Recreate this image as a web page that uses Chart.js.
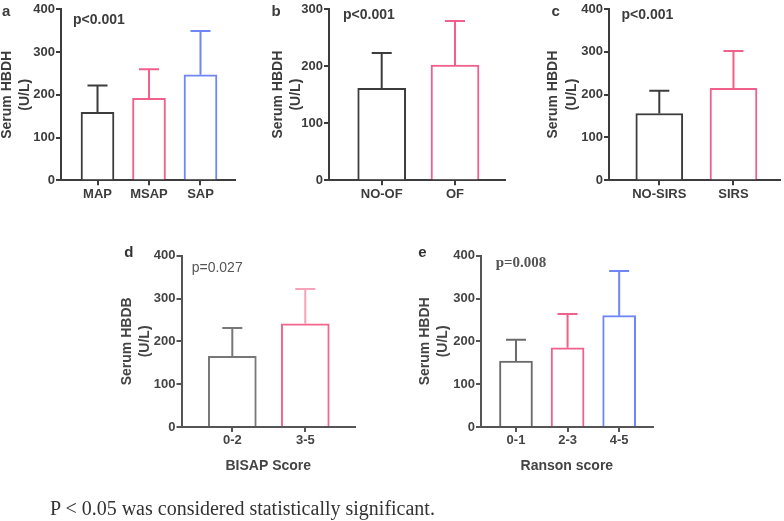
<!DOCTYPE html>
<html>
<head>
<meta charset="utf-8">
<script src="https://cdn.jsdelivr.net/npm/chart.js@4.4.0/dist/chart.umd.min.js"></script>
<style>
html, body { margin: 0; padding: 0; background: #fff; }
#wrap { position: relative; width: 784px; height: 521px; overflow: hidden; }
#wrap canvas { position: absolute; left: 0; top: 0; }
#footnote {
    position: absolute; left: 50px; top: 498px;
    font: 20px 'Liberation Serif', 'Times New Roman', serif;
    line-height: 20px; color: #333; white-space: nowrap;
}
</style>
</head>
<body>
<div id="wrap">
    <canvas id="panel-a" width="784" height="521"></canvas>
    <canvas id="panel-b" width="784" height="521"></canvas>
    <canvas id="panel-c" width="784" height="521"></canvas>
    <canvas id="panel-d" width="784" height="521"></canvas>
    <canvas id="panel-e" width="784" height="521"></canvas>
    <div id="footnote">P &lt; 0.05 was considered statistically significant.</div>
</div>
<script>
// serum HBDH, mean and SD (upper whisker only)
const severityLabels = ['MAP', 'MSAP', 'SAP'];
const severityMean = [159, 192, 247];
const severitySD = [63, 68, 102];

const ofLabels = ['NO-OF', 'OF'];
const ofMean = [161, 202];
const ofSD = [62, 77];

const sirsLabels = ['NO-SIRS', 'SIRS'];
const sirsMean = [156, 215];
const sirsSD = [53, 87];

const bisapLabels = ['0-2', '3-5'];
const bisapMean = [165, 241];
const bisapSD = [66, 81];

const ransonLabels = ['0-1', '2-3', '4-5'];
const ransonMean = [154, 185, 260];
const ransonSD = [50, 79, 104];

const yMax400 = 400;
const yMax300 = 300;
const yStep = 100;

const DARK = '#3c3c3c';
const PINK = '#f0608a';
const BLUE = '#6e86f6';

Chart.defaults.font.family = "'Liberation Sans', Arial, sans-serif";

const errorBars = {
    id: 'errorBars',
    afterDatasetsDraw(chart, args, opts) {
        const ctx = chart.ctx;
        const yScale = chart.scales.y;
        chart.data.datasets.forEach((ds, di) => {
            const meta = chart.getDatasetMeta(di);
            meta.data.forEach((bar, i) => {
                const top = yScale.getPixelForValue(ds.data[i].y + ds.errors[i]);
                const base = yScale.getPixelForValue(ds.data[i].y);
                ctx.save();
                ctx.strokeStyle = (opts.colors || ds.borderColor)[i];
                ctx.lineWidth = 2;
                ctx.beginPath();
                ctx.moveTo(bar.x, base);
                ctx.lineTo(bar.x, top);
                ctx.moveTo(bar.x - opts.cap, top);
                ctx.lineTo(bar.x + opts.cap, top);
                ctx.stroke();
                ctx.restore();
            });
        });
    }
};

const panelText = {
    id: 'panelText',
    afterDraw(chart, args, opts) {
        const ctx = chart.ctx;
        (opts.items || []).forEach(t => {
            ctx.save();
            ctx.font = t.font;
            ctx.fillStyle = t.color;
            ctx.textAlign = 'left';
            ctx.textBaseline = 'alphabetic';
            ctx.fillText(t.text, t.x, t.y);
            ctx.restore();
        });
    }
};

function makePanel(id, p) {
    const bold13 = { size: 13, weight: 'bold' };
    return new Chart(document.getElementById(id), {
        type: 'bar',
        data: {
            datasets: [{
                data: p.labels.map((l, i) => ({ x: i, y: p.mean[i] })),
                errors: p.sd,
                backgroundColor: '#fff',
                borderColor: p.colors,
                borderWidth: 2,
                barThickness: p.barWidth
            }]
        },
        options: {
            responsive: false,
            animation: false,
            events: [],
            layout: { padding: p.pad },
            plugins: {
                legend: { display: false },
                tooltip: { enabled: false },
                errorBars: { cap: 10, colors: p.errColors },
                panelText: { items: p.texts }
            },
            scales: {
                x: {
                    type: 'linear',
                    offset: false,
                    bounds: 'data',
                    min: p.xMin,
                    max: p.xMax,
                    afterBuildTicks: s => { s.ticks = p.labels.map((l, i) => ({ value: i })); },
                    afterFit: s => { s.height = p.xHeight; },
                    ticks: {
                        callback: v => p.labels[v],
                        font: bold13, color: p.ink, padding: 1,
                        maxRotation: 0, autoSkip: false
                    },
                    grid: { offset: false, drawOnChartArea: false, drawTicks: true, tickLength: 5, color: p.axis, lineWidth: 2 },
                    border: { color: p.axis, width: 2 },
                    title: p.xTitle ? {
                        display: true, text: p.xTitle, color: p.ink,
                        font: { size: 14, weight: 'bold', lineHeight: 1.2 },
                        padding: { top: 0, bottom: p.xTitlePad }
                    } : { display: false }
                },
                y: {
                    min: 0,
                    max: p.yMax,
                    afterFit: s => { s.width = p.yWidth; },
                    ticks: { stepSize: yStep, font: bold13, color: p.ink, padding: 1 },
                    grid: { drawOnChartArea: false, drawTicks: true, tickLength: 5, color: p.axis, lineWidth: 2 },
                    border: { color: p.axis, width: 2 },
                    title: {
                        display: true, text: p.yTitle, color: p.ink,
                        font: { size: 14, weight: 'bold', lineHeight: 1.32 },
                        padding: { top: p.yTitlePad, bottom: 0 }
                    }
                }
            }
        },
        plugins: [errorBars, panelText]
    });
}

const letterFont = "bold 15px 'Liberation Sans', Arial, sans-serif";
const pFont = "bold 14px 'Liberation Sans', Arial, sans-serif";

makePanel('panel-a', {
    labels: severityLabels, mean: severityMean, sd: severitySD,
    colors: [DARK, PINK, BLUE], barWidth: 33,
    xMin: -0.709, xMax: 2.67, yMax: yMax400,
    pad: { left: 0, top: 9.3, right: 549, bottom: 315.7 },
    yWidth: 61, xHeight: 25, yTitlePad: -2.25,
    yTitle: ['Serum HBDH', '(U/L)'],
    ink: DARK, axis: DARK,
    texts: [
        { text: 'a', x: 2, y: 16, font: letterFont, color: DARK },
        { text: 'p<0.001', x: 73, y: 24, font: pFont, color: DARK }
    ]
});

makePanel('panel-b', {
    labels: ofLabels, mean: ofMean, sd: ofSD,
    colors: [DARK, PINK], barWidth: 48,
    xMin: -0.719, xMax: 1.682, yMax: yMax300,
    pad: { left: 268.75, top: 9, right: 279, bottom: 315.7 },
    yWidth: 60.25, xHeight: 25, yTitlePad: 0,
    yTitle: ['Serum HBDH', '(U/L)'],
    ink: DARK, axis: DARK,
    texts: [
        { text: 'b', x: 271.5, y: 16, font: letterFont, color: DARK },
        { text: 'p<0.001', x: 343, y: 18.5, font: pFont, color: DARK }
    ]
});

makePanel('panel-c', {
    labels: sirsLabels, mean: sirsMean, sd: sirsSD,
    colors: [DARK, PINK], barWidth: 47,
    xMin: -0.678, xMax: 1.627, yMax: yMax400,
    pad: { left: 544.25, top: 9, right: 4, bottom: 315.7 },
    yWidth: 64.75, xHeight: 25, yTitlePad: 0,
    yTitle: ['Serum HBDH', '(U/L)'],
    ink: DARK, axis: DARK,
    texts: [
        { text: 'c', x: 551.5, y: 16, font: letterFont, color: DARK },
        { text: 'p<0.001', x: 621.5, y: 18.5, font: pFont, color: DARK }
    ]
});

makePanel('panel-d', {
    labels: bisapLabels, mean: bisapMean, sd: bisapSD,
    colors: ['#777777', '#f0668c'], errColors: ['#777777', '#f5a3b8'], barWidth: 48,
    xMin: -0.696, xMax: 1.681, yMax: yMax400,
    pad: { left: 117.75, top: 255.7, right: 429, bottom: 44 },
    yWidth: 63.75, xHeight: 50, yTitlePad: 0,
    yTitle: ['Serum HBDB', '(U/L)'],
    xTitle: 'BISAP Score', xTitlePad: 2.6,
    ink: '#444', axis: '#555',
    texts: [
        { text: 'd', x: 124.3, y: 256.7, font: letterFont, color: '#333' },
        { text: 'p=0.027', x: 191.7, y: 271.7, font: "14px 'Liberation Sans', Arial, sans-serif", color: '#555' }
    ]
});

makePanel('panel-e', {
    labels: ransonLabels, mean: ransonMean, sd: ransonSD,
    colors: ['#6b6b6b', PINK, BLUE], barWidth: 33,
    xMin: -0.678, xMax: 2.65, yMax: yMax400,
    pad: { left: 415.75, top: 255.7, right: 131.3, bottom: 44 },
    yWidth: 65.25, xHeight: 50, yTitlePad: 0,
    yTitle: ['Serum HBDH', '(U/L)'],
    xTitle: 'Ranson score', xTitlePad: 2,
    ink: '#444', axis: '#555',
    texts: [
        { text: 'e', x: 418.3, y: 256.7, font: letterFont, color: '#333' },
        { text: 'p=0.008', x: 495.7, y: 267.3, font: "bold 15px 'Liberation Serif', 'Times New Roman', serif", color: '#555' }
    ]
});
</script>
</body>
</html>
